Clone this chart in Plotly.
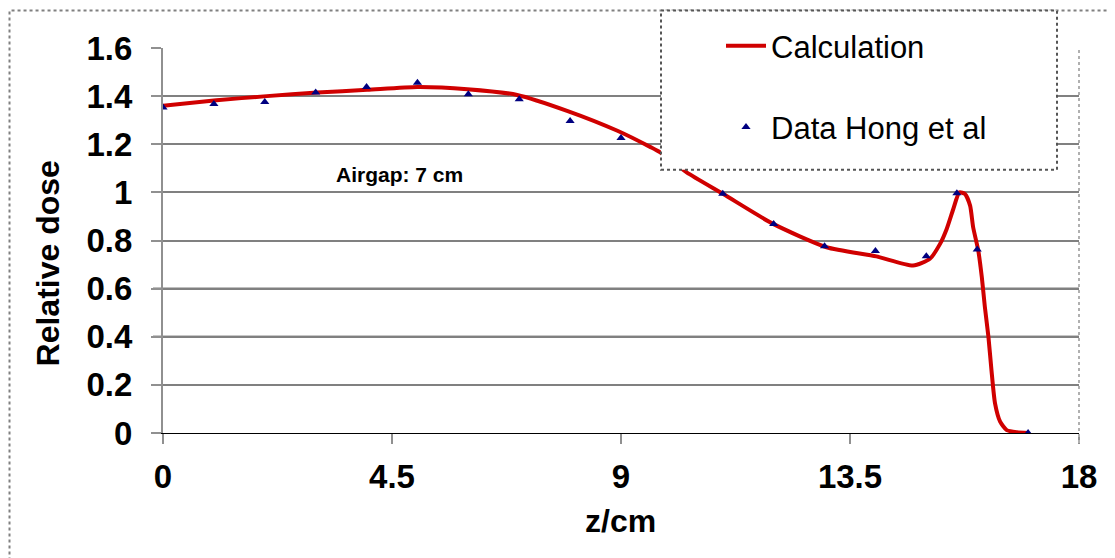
import plotly.graph_objects as go

# Calculation curve
calc_z = [0, 1.05, 2.04, 3.03, 4.01, 5.0, 5.98, 6.96, 7.94, 8.93, 9.59, 9.77, 10.29, 11.01,
          11.99, 13.04, 14.02, 14.74, 15.07, 15.27, 15.40, 15.53, 15.65, 15.76, 15.86, 15.92,
          16.02, 16.09, 16.15, 16.22, 16.28, 16.35, 16.45, 16.58, 16.78, 17.0]
calc_dose = [1.36, 1.383, 1.40, 1.415, 1.426, 1.438, 1.429, 1.405, 1.339, 1.256, 1.187, 1.166,
             1.083, 0.993, 0.869, 0.772, 0.734, 0.696, 0.724, 0.786, 0.848, 0.931, 1.0, 0.993,
             0.945, 0.855, 0.759, 0.648, 0.524, 0.40, 0.261, 0.123, 0.047, 0.012, 0.003, 0.0]

# Measured data (Hong et al)
data_z = [0, 1, 2, 3, 4, 5, 6, 7, 8, 9, 11, 12, 13, 14, 15, 15.6, 16, 17]
data_dose = [1.353, 1.367, 1.376, 1.415, 1.438, 1.456, 1.408, 1.387, 1.297, 1.226,
             0.994, 0.869, 0.776, 0.756, 0.735, 0.996, 0.763, 0.0]

x_ticks = [0, 4.5, 9, 13.5, 18]
x_tick_labels = ["0", "4.5", "9", "13.5", "18"]
y_ticks = [0, 0.2, 0.4, 0.6, 0.8, 1.0, 1.2, 1.4, 1.6]
y_tick_labels = ["0", "0.2", "0.4", "0.6", "0.8", "1", "1.2", "1.4", "1.6"]

FONT = "Arial, Liberation Sans, sans-serif"

fig = go.Figure()
fig.add_trace(go.Scatter(x=calc_z, y=calc_dose, mode="lines", name="Calculation",
                         line=dict(color="#d00000", width=4, shape="spline", smoothing=0.6),
                         legendgroup="a"))
fig.add_trace(go.Scatter(x=data_z, y=data_dose, mode="markers", name="Data Hong et al",
                         marker=dict(symbol="triangle-up", size=8, color="#000080"),
                         legendgroup="b"))

# page offset (browser body margin)
OFF = 8
W, H = 1115, 558
PL, PT = 163, 47          # plot-area top-left in page pixels
pw, ph = 916, 386
L, T = PL - OFF, PT - OFF
R = W - L - pw
B = H - T - ph

def px(x):
    return (x - PL) / pw

def py(y):
    return (PT + ph - y) / ph

shapes = []
# black gridlines
for yv, col in [(0.6, "#000000"), (0.4, "#222222")]:
    shapes.append(dict(type="line", xref="paper", yref="y", x0=px(153), x1=1.0, y0=yv, y1=yv,
                       line=dict(color=col, width=2), layer="between"))
# right plot border
shapes.append(dict(type="line", xref="paper", yref="paper", x0=1.0, x1=1.0, y0=py(443), y1=1.0,
                   line=dict(color="#b0b0b0", width=2, dash="dot")))
# outer frame
shapes.append(dict(type="rect", xref="paper", yref="paper", x0=px(9.5), x1=px(1110), y0=py(575), y1=py(9.5),
                   line=dict(color="#808080", width=2, dash="dot"), fillcolor="rgba(0,0,0,0)", layer="below"))
# legend box
shapes.append(dict(type="rect", xref="paper", yref="paper", x0=px(661), x1=px(1057), y0=py(169), y1=py(9.5),
                   line=dict(color="#555555", width=2, dash="dot"), fillcolor="white", layer="above"))

fig.update_layout(
    width=W, height=H,
    margin=dict(l=L, r=R, t=T, b=B, pad=0),
    paper_bgcolor="white", plot_bgcolor="white",
    font=dict(family=FONT, color="black"),
    showlegend=True,
    legend=dict(x=px(721), y=py(19), xanchor="left", yanchor="top",
                bgcolor="rgba(0,0,0,0)", borderwidth=0, itemwidth=40,
                traceorder="grouped", tracegroupgap=38,
                font=dict(family=FONT, size=31, color="black")),
    shapes=shapes,
    annotations=[
        dict(text="Airgap: 7 cm", x=4.64, y=1.074, xref="x", yref="y", showarrow=False,
             xanchor="center", yanchor="middle",
             font=dict(family=FONT, size=21, color="black", weight="bold")),
        dict(text="Relative dose", x=px(48), y=py(263), xref="paper", yref="paper", showarrow=False,
             xanchor="center", yanchor="middle",
             textangle=-90, font=dict(family=FONT, size=32, color="black", weight="bold")),
        dict(text="z/cm", x=px(620), y=py(521), xref="paper", yref="paper", showarrow=False,
             xanchor="center", yanchor="middle",
             font=dict(family=FONT, size=32, color="black", weight="bold")),
    ],
)

fig.update_xaxes(range=[0, 18], tickvals=x_ticks, ticktext=x_tick_labels,
                 showgrid=False, zeroline=False,
                 showline=True, linecolor="black", linewidth=1,
                 ticks="outside", ticklen=10, tickcolor="#909090", tickwidth=2,
                 ticklabelstandoff=4,
                 tickfont=dict(family=FONT, size=33, color="black", weight="bold"))
fig.update_yaxes(range=[0, 1.6], tickvals=y_ticks, ticktext=y_tick_labels,
                 showgrid=True, gridcolor="#808080", gridwidth=2,
                 zeroline=False,
                 showline=True, linecolor="#909090", linewidth=2,
                 ticks="outside", ticklen=10, tickcolor="#909090", tickwidth=2,
                 ticklabelstandoff=12,
                 tickfont=dict(family=FONT, size=33, color="black", weight="bold"))

fig.write_html("out.html")
